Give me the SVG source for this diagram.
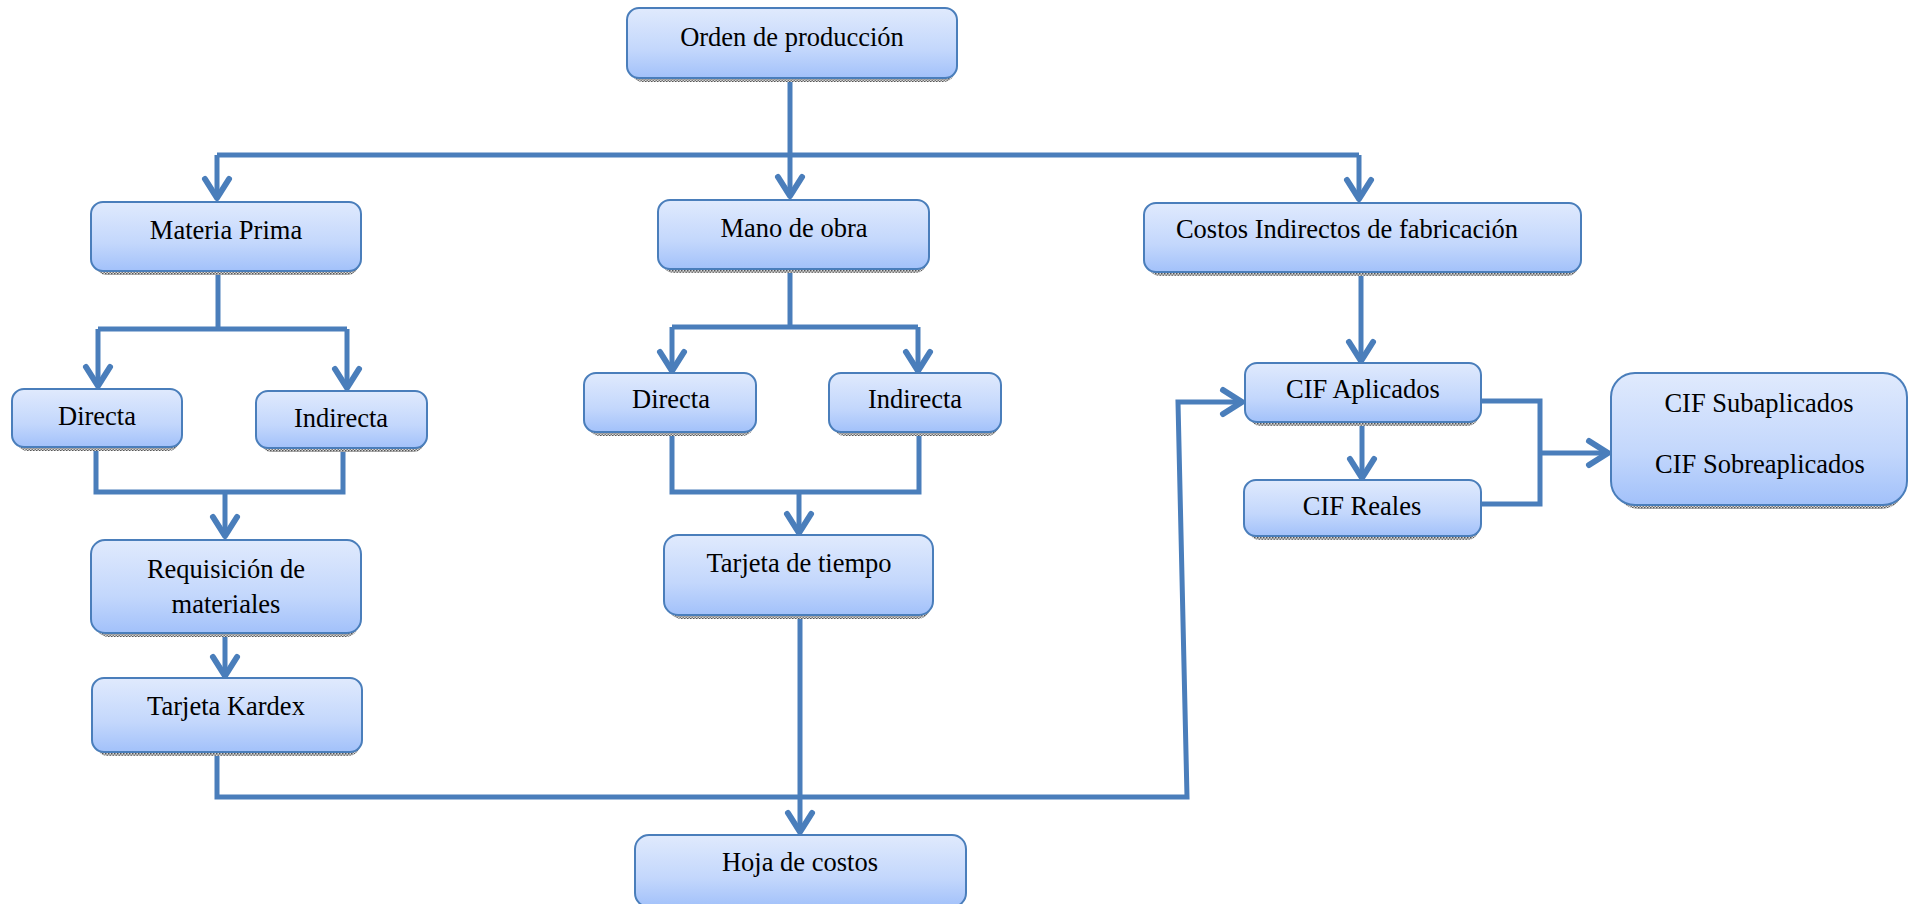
<svg xmlns="http://www.w3.org/2000/svg" width="1914" height="904" viewBox="0 0 1914 904">
<defs>
<linearGradient id="g" x1="0" y1="0" x2="0" y2="1">
<stop offset="0" stop-color="#e0eafd"/>
<stop offset="0.6" stop-color="#c3d7fc"/>
<stop offset="1" stop-color="#a2c1fa"/>
</linearGradient>
<pattern id="dots" width="3" height="3" patternUnits="userSpaceOnUse">
<rect width="3" height="3" fill="#d8d8d8"/>
<rect width="1.5" height="1.5" fill="#555"/>
<rect x="1.5" y="1.5" width="1.5" height="1.5" fill="#777"/>
</pattern>
<marker id="arr" markerUnits="userSpaceOnUse" orient="auto" refX="0" refY="0" markerWidth="40" markerHeight="40" viewBox="-30 -20 40 40" overflow="visible">
<path d="M -18 -12 L 1 0 L -18 12" fill="none" stroke="#4a7ebb" stroke-width="6" stroke-linecap="round" stroke-linejoin="round"/>
</marker>
</defs>
<style>
.sh{fill:url(#dots)}
.bx{fill:url(#g);stroke:#4a7ebb;stroke-width:2}
.t{font-family:"Liberation Serif","Times New Roman",serif;font-size:26.5px;fill:#000;text-anchor:middle}
.c{fill:none;stroke:#4a7ebb;stroke-width:5}
.a{marker-end:url(#arr)}
</style>
<rect width="1914" height="904" fill="#fff"/>
<g id="connectors">
<path class="c a" d="M790 78 V195"/>
<path class="c" d="M217 155 H1359"/>
<path class="c a" d="M217 155 V197"/>
<path class="c a" d="M1359 155 V198"/>
<path class="c" d="M218 271 V329"/>
<path class="c" d="M98 329 H347"/>
<path class="c a" d="M98 329 V385"/>
<path class="c a" d="M347 329 V387"/>
<path class="c" d="M96 447 V492 H343 V448"/>
<path class="c a" d="M225 492 V535"/>
<path class="c a" d="M225 633 V675"/>
<path class="c a" d="M217 752 V797 H1187 L1178 402 H1241"/>
<path class="c" d="M790 269 V327"/>
<path class="c" d="M672 327 H918"/>
<path class="c a" d="M672 327 V370"/>
<path class="c a" d="M918 327 V370"/>
<path class="c" d="M672 432 V492 H919 V432"/>
<path class="c a" d="M799 492 V532"/>
<path class="c a" d="M800 615 V831"/>
<path class="c a" d="M1361 272 V360"/>
<path class="c a" d="M1362 422 V477"/>
<path class="c" d="M1481 401 H1540 V504 H1481"/>
<path class="c a" d="M1540 453 H1607"/>
</g>
<g id="orden">
<rect class="sh" x="631" y="12" width="324" height="70" rx="12"/>
<rect class="bx" x="627" y="8" width="330" height="70" rx="12"/>
<text class="t" x="792" y="46">Orden de producción</text>
</g>
<g id="materia-prima">
<rect class="sh" x="95" y="206" width="264" height="69" rx="12"/>
<rect class="bx" x="91" y="202" width="270" height="69" rx="12"/>
<text class="t" x="226" y="239">Materia Prima</text>
</g>
<g id="mp-directa">
<rect class="sh" x="16" y="393" width="164" height="58" rx="12"/>
<rect class="bx" x="12" y="389" width="170" height="58" rx="12"/>
<text class="t" x="97" y="425">Directa</text>
</g>
<g id="mp-indirecta">
<rect class="sh" x="260" y="395" width="165" height="57" rx="12"/>
<rect class="bx" x="256" y="391" width="171" height="57" rx="12"/>
<text class="t" x="341" y="427">Indirecta</text>
</g>
<g id="requisicion">
<rect class="sh" x="95" y="544" width="264" height="93" rx="14"/>
<rect class="bx" x="91" y="540" width="270" height="93" rx="14"/>
<text class="t" x="226" y="578">Requisición de</text>
<text class="t" x="226" y="613">materiales</text>
</g>
<g id="kardex">
<rect class="sh" x="96" y="682" width="264" height="74" rx="12"/>
<rect class="bx" x="92" y="678" width="270" height="74" rx="12"/>
<text class="t" x="226" y="715">Tarjeta Kardex</text>
</g>
<g id="mano-obra">
<rect class="sh" x="662" y="204" width="265" height="69" rx="12"/>
<rect class="bx" x="658" y="200" width="271" height="69" rx="12"/>
<text class="t" x="794" y="237">Mano de obra</text>
</g>
<g id="mo-directa">
<rect class="sh" x="588" y="377" width="166" height="59" rx="12"/>
<rect class="bx" x="584" y="373" width="172" height="59" rx="12"/>
<text class="t" x="671" y="408">Directa</text>
</g>
<g id="mo-indirecta">
<rect class="sh" x="833" y="377" width="166" height="59" rx="12"/>
<rect class="bx" x="829" y="373" width="172" height="59" rx="12"/>
<text class="t" x="915" y="408">Indirecta</text>
</g>
<g id="tarjeta-tiempo">
<rect class="sh" x="668" y="539" width="263" height="80" rx="14"/>
<rect class="bx" x="664" y="535" width="269" height="80" rx="14"/>
<text class="t" x="799" y="572">Tarjeta de tiempo</text>
</g>
<g id="cif">
<rect class="sh" x="1148" y="207" width="431" height="69" rx="12"/>
<rect class="bx" x="1144" y="203" width="437" height="69" rx="12"/>
<text class="t" x="1347" y="238">Costos Indirectos de fabricación</text>
</g>
<g id="cif-aplicados">
<rect class="sh" x="1249" y="367" width="230" height="59" rx="12"/>
<rect class="bx" x="1245" y="363" width="236" height="59" rx="12"/>
<text class="t" x="1363" y="398">CIF Aplicados</text>
</g>
<g id="cif-reales">
<rect class="sh" x="1248" y="484" width="231" height="56" rx="12"/>
<rect class="bx" x="1244" y="480" width="237" height="56" rx="12"/>
<text class="t" x="1362" y="515">CIF Reales</text>
</g>
<g id="cif-sub-sobre">
<rect class="sh" x="1615" y="377" width="290" height="132" rx="24"/>
<rect class="bx" x="1611" y="373" width="296" height="132" rx="24"/>
<text class="t" x="1759" y="412">CIF Subaplicados</text>
<text class="t" x="1760" y="473">CIF Sobreaplicados</text>
</g>
<g id="hoja-costos">
<rect class="sh" x="639" y="839" width="325" height="72" rx="14"/>
<rect class="bx" x="635" y="835" width="331" height="72" rx="14"/>
<text class="t" x="800" y="871">Hoja de costos</text>
</g>
</svg>
